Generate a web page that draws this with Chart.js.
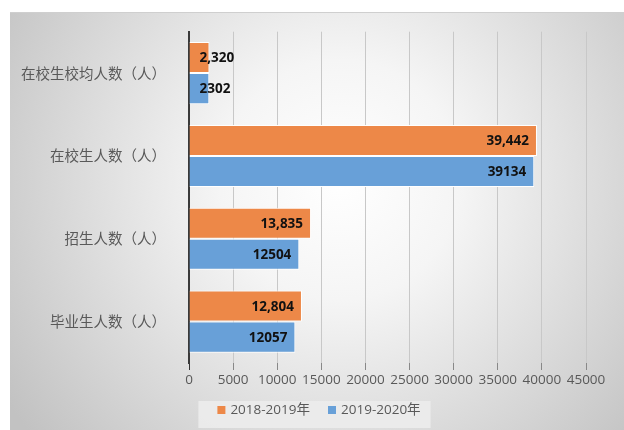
<!DOCTYPE html>
<html>
<head>
<meta charset="utf-8">
<script src="https://cdn.jsdelivr.net/npm/chart.js@4/dist/chart.umd.min.js"></script>
<style>
html,body{margin:0;padding:0;background:#fff;}
canvas{display:block;}
</style>
</head>
<body>
<canvas id="c" width="624" height="430"></canvas>
<script>
const categories = ['在校生校均人数（人）', '在校生人数（人）', '招生人数（人）', '毕业生人数（人）'];
const seriesNames = ['2018-2019年', '2019-2020年'];
const values2018 = [2320, 39442, 13835, 12804];
const values2019 = [2302, 39134, 12504, 12057];
const labelUseComma = [true, false];
const xTickMax = 45000;
const xTickStep = 5000;

const bgPlugin = {
  id: 'bg',
  beforeDraw(chart) {
    const ctx = chart.ctx;
    ctx.save();
    ctx.fillStyle = '#ffffff';
    ctx.fillRect(0, 0, chart.width, chart.height);
    const g = ctx.createRadialGradient(340, 180, 0, 340, 180, 400);
    g.addColorStop(0, '#ffffff');
    g.addColorStop(0.3, '#f5f5f5');
    g.addColorStop(1, '#c2c2c2');
    ctx.fillStyle = g;
    ctx.fillRect(10, 12, chart.width - 10, chart.height - 12);
    ctx.fillStyle = '#cfcfcf';
    ctx.fillRect(10, 12, chart.width - 10, 1);
    ctx.restore();
  }
};

const legendPlugin = {
  id: 'customLegend',
  afterDraw(chart) {
    const ctx = chart.ctx;
    ctx.save();
    ctx.font = '13.5px "Open Sans", "Noto Sans CJK SC", sans-serif';
    const items = chart.data.datasets.map(ds => ({ text: ds.label, color: ds.backgroundColor, w: ctx.measureText(ds.label).width }));
    const box = 8, gapIn = 5, gapOut = 18;
    let total = 0;
    items.forEach((it, i) => { total += box + gapIn + it.w + (i ? gapOut : 0); });
    const cx = 319, cy = 410;
    let x = cx - total / 2;
    ctx.fillStyle = 'rgba(236,236,236,0.9)';
    ctx.fillRect(x - 19, 401, total + 29, 27);
    ctx.textBaseline = 'middle';
    ctx.textAlign = 'left';
    items.forEach((it) => {
      ctx.fillStyle = it.color;
      ctx.fillRect(x, cy - 4, box, box);
      ctx.fillStyle = '#595959';
      ctx.fillText(it.text, x + box + gapIn, cy);
      x += box + gapIn + it.w + gapOut;
    });
    ctx.restore();
  }
};

const labelPlugin = {
  id: 'barLabels',
  afterDatasetsDraw(chart) {
    const ctx = chart.ctx;
    ctx.save();
    ctx.font = 'bold 13.5px "Open Sans", "DejaVu Sans", sans-serif';
    ctx.fillStyle = '#111';
    ctx.textBaseline = 'middle';
    ctx.textAlign = 'left';
    chart.data.datasets.forEach((ds, di) => {
      const meta = chart.getDatasetMeta(di);
      meta.data.forEach((el, i) => {
        const v = ds.data[i];
        const txt = labelUseComma[di] ? v.toLocaleString('en-US') : String(v);
        const w = ctx.measureText(txt).width;
        let left = el.x - 8 - w;
        if (left < el.base + 10) left = el.base + 10;
        ctx.fillText(txt, left, el.y + 1);
      });
    });
    ctx.restore();
  }
};

new Chart(document.getElementById('c'), {
  type: 'bar',
  data: {
    labels: categories,
    datasets: [
      { label: seriesNames[0], data: values2018, backgroundColor: '#ED8848', borderColor: '#ffffff', borderWidth: 1 },
      { label: seriesNames[1], data: values2019, backgroundColor: '#68A0D8', borderColor: '#ffffff', borderWidth: 1 }
    ]
  },
  options: {
    indexAxis: 'y',
    responsive: false,
    animation: false,
    devicePixelRatio: 1,
    layout: { padding: { left: 10, top: 31, right: 38, bottom: 41 } },
    datasets: { bar: { categoryPercentage: 0.75, barPercentage: 1.0 } },
    scales: {
      x: {
        min: 0,
        max: xTickMax,
        ticks: {
          stepSize: xTickStep,
          padding: 2,
          maxRotation: 0,
          minRotation: 0,
          autoSkip: false,
          color: '#595959',
          font: { family: '"Open Sans", sans-serif', size: 13.5 },
          callback: (v) => String(v)
        },
        grid: {
          color: '#c8c8c8',
          lineWidth: 1,
          drawTicks: true,
          tickLength: 7,
          tickColor: (c) => (c.tick && c.tick.value === 0 ? '#333' : '#888')
        },
        border: { display: false },
        afterFit(s) { s.height = 26; }
      },
      y: {
        ticks: {
          padding: 23,
          color: '#595959',
          font: { family: '"Noto Sans CJK SC", sans-serif', size: 14.5 }
        },
        grid: { display: false, drawTicks: false },
        border: { display: true, color: '#3a3a3a', width: 2 },
        afterFit(s) { s.width = 179; }
      }
    },
    plugins: {
      legend: { display: false },
      tooltip: { enabled: false }
    }
  },
  plugins: [bgPlugin, labelPlugin, legendPlugin]
});
</script>
</body>
</html>
